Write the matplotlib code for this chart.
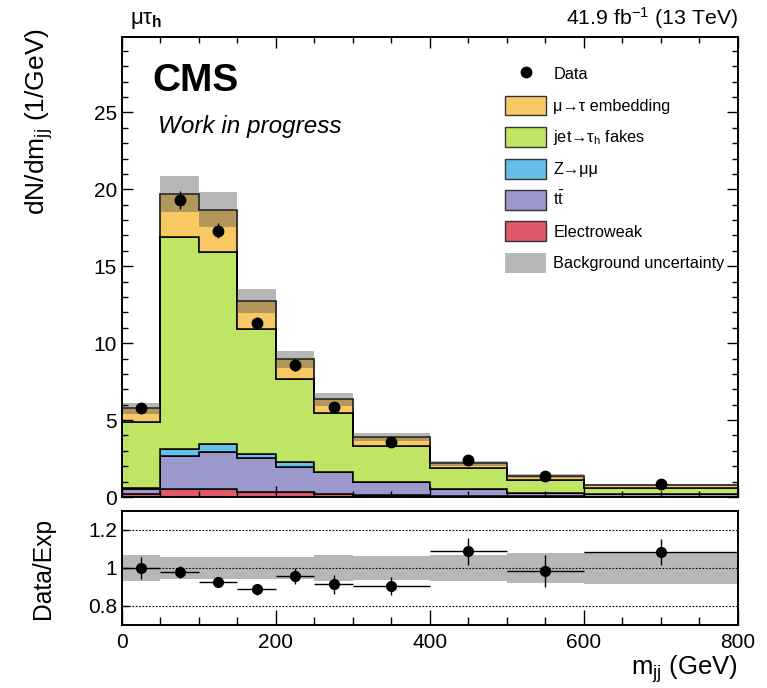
import numpy as np
import matplotlib
matplotlib.use("Agg")
from matplotlib import pyplot as plt
from matplotlib.patches import Patch
from matplotlib.lines import Line2D
from matplotlib.ticker import MultipleLocator, FixedLocator

plt.rcParams['font.family'] = ['Liberation Sans', 'DejaVu Sans']
plt.rcParams['mathtext.fontset'] = 'custom'
plt.rcParams['mathtext.rm'] = 'Liberation Sans'
plt.rcParams['mathtext.it'] = 'Liberation Sans:italic'
plt.rcParams['mathtext.bf'] = 'Liberation Sans:bold'
plt.rcParams['mathtext.default'] = 'regular'

# m_jj binning (GeV)
edges = np.array([0, 50, 100, 150, 200, 250, 300, 400, 500, 600, 800])

# background yields, dN/dm_jj (1/GeV)
electroweak = np.array([0.20, 0.55, 0.50, 0.35, 0.30, 0.22, 0.15, 0.08, 0.05, 0.03])
ttbar       = np.array([0.35, 2.10, 2.44, 2.16, 1.67, 1.38, 0.80, 0.42, 0.23, 0.14])
zmumu       = np.array([0.05, 0.44, 0.48, 0.26, 0.32, 0.04, 0.02, 0.01, 0.01, 0.00])
jet_fakes   = np.array([4.30, 13.80, 12.51, 8.13, 5.37, 3.83, 2.34, 1.35, 0.81, 0.43])
embedding   = np.array([0.86, 2.81, 2.75, 1.85, 1.28, 0.89, 0.61, 0.33, 0.26, 0.165])
bkg_rel_unc = np.array([0.066, 0.060, 0.060, 0.060, 0.060, 0.068, 0.063, 0.068, 0.078, 0.085])

data     = np.array([5.76, 19.30, 17.30, 11.32, 8.57, 5.82, 3.55, 2.38, 1.34, 0.83])
data_err = np.array([0.32, 0.60, 0.49, 0.38, 0.38, 0.32, 0.19, 0.155, 0.116, 0.052])

components = [
    (electroweak, '#de5a6a', 'Electroweak'),
    (ttbar,       '#9b98cc', r'$t\bar{t}$'),
    (zmumu,       '#64c0e8', 'Z→μμ'),
    (jet_fakes,   '#c0e464', r'jet→τ$_{h}$ fakes'),
    (embedding,   '#f8c864', 'μ→τ embedding'),
]

centers = 0.5 * (edges[1:] + edges[:-1])
halfw = 0.5 * (edges[1:] - edges[:-1])

fig = plt.figure(figsize=(7.67, 6.88), dpi=100)
ax = fig.add_axes([0.159, 0.2776, 0.803, 0.6686])
rax = fig.add_axes([0.159, 0.0916, 0.803, 0.1657])

# stacked backgrounds
base = np.zeros(len(centers))
for vals, col, lab in components:
    top = base + vals
    ax.stairs(top, edges, baseline=base, fill=True, facecolor=col,
              edgecolor='black', linewidth=1.1)
    base = top
total = base

unc_col = '#4d4d4d'
ax.stairs(total * (1 + bkg_rel_unc), edges, baseline=total * (1 - bkg_rel_unc),
          fill=True, facecolor=unc_col, alpha=0.4, linewidth=0)

ax.errorbar(centers, data, yerr=data_err, fmt='o', color='black',
            markersize=7.5, elinewidth=1.0, capsize=0, zorder=5)

ax.set_xlim(0, 800)
ax.set_ylim(0, 29.9)
ax.xaxis.set_major_locator(MultipleLocator(200))
ax.xaxis.set_minor_locator(MultipleLocator(50))
ax.yaxis.set_major_locator(MultipleLocator(5))
ax.yaxis.set_minor_locator(MultipleLocator(1))
ax.tick_params(which='both', direction='in', top=True, right=True,
               labelbottom=False, labelsize=15, width=1.0)
ax.tick_params(which='major', length=8)
ax.tick_params(which='minor', length=4)
for s in ax.spines.values():
    s.set_linewidth(1.4)
ax.set_ylabel(r'dN/dm$_{jj}$ (1/GeV)', fontsize=19)
ax.yaxis.set_label_coords(-0.108, 1.02, transform=ax.transAxes)
ax.yaxis.label.set_ha('right')

ax.text(0.05, 0.905, 'CMS', transform=ax.transAxes, fontsize=28,
        fontweight='bold', va='center')
ax.text(0.058, 0.805, 'Work in progress', transform=ax.transAxes,
        fontsize=17.5, style='italic', va='center')
ax.text(0.013, 1.012, r'$\mu\tau_{\mathbf{h}}$', transform=ax.transAxes,
        fontsize=16, ha='left', va='bottom')
ax.text(1.0, 1.012, r'41.9 fb$^{-1}$ (13 TeV)', transform=ax.transAxes,
        fontsize=15.3, ha='right', va='bottom')

handles = [Line2D([], [], marker='o', color='black', linestyle='none',
                  markersize=7.5)]
labels = ['Data']
for vals, col, lab in components[::-1]:
    handles.append(Patch(facecolor=col, edgecolor='#333333', linewidth=1.0))
    labels.append(lab)
handles.append(Patch(facecolor=unc_col, alpha=0.4, linewidth=0))
labels.append('Background uncertainty')
ax.legend(handles, labels, loc='upper left', bbox_to_anchor=(0.612, 0.955),
          frameon=False, fontsize=11.7, handlelength=2.5, handleheight=1.5,
          labelspacing=0.71, handletextpad=0.45, borderaxespad=0)

# ratio panel
ratio = data / total
ratio_err = data_err / total
rax.stairs(1 + bkg_rel_unc, edges, baseline=1 - bkg_rel_unc, fill=True,
           facecolor=unc_col, alpha=0.4, linewidth=0)
for yl in (0.8, 1.0, 1.2):
    rax.axhline(yl, color='black', linestyle=(0, (1.5, 1.5)), linewidth=0.8)
rax.errorbar(centers, ratio, xerr=halfw, yerr=ratio_err, fmt='o',
             color='black', markersize=7, elinewidth=1.0, capsize=0, zorder=5)
rax.set_xlim(0, 800)
rax.set_ylim(0.7, 1.3)
rax.xaxis.set_major_locator(MultipleLocator(200))
rax.xaxis.set_minor_locator(MultipleLocator(50))
rax.yaxis.set_major_locator(FixedLocator([0.8, 1.0, 1.2]))
rax.set_yticklabels(['0.8', '1', '1.2'])
rax.tick_params(which='both', direction='in', labelsize=15, width=1.0)
rax.tick_params(axis='x', which='major', length=11, pad=6)
rax.tick_params(axis='x', which='minor', length=6)
rax.tick_params(axis='y', which='major', length=5)
for s in rax.spines.values():
    s.set_linewidth(1.4)
rax.set_ylabel('Data/Exp', fontsize=17.7)
rax.yaxis.set_label_coords(-0.108, 0.5, transform=rax.transAxes)
rax.set_xlabel(r'm$_{jj}$ (GeV)', fontsize=18.5)
rax.xaxis.set_label_coords(1.0, -0.25, transform=rax.transAxes)
rax.xaxis.label.set_ha('right')

fig.savefig('out.png', dpi=100)
